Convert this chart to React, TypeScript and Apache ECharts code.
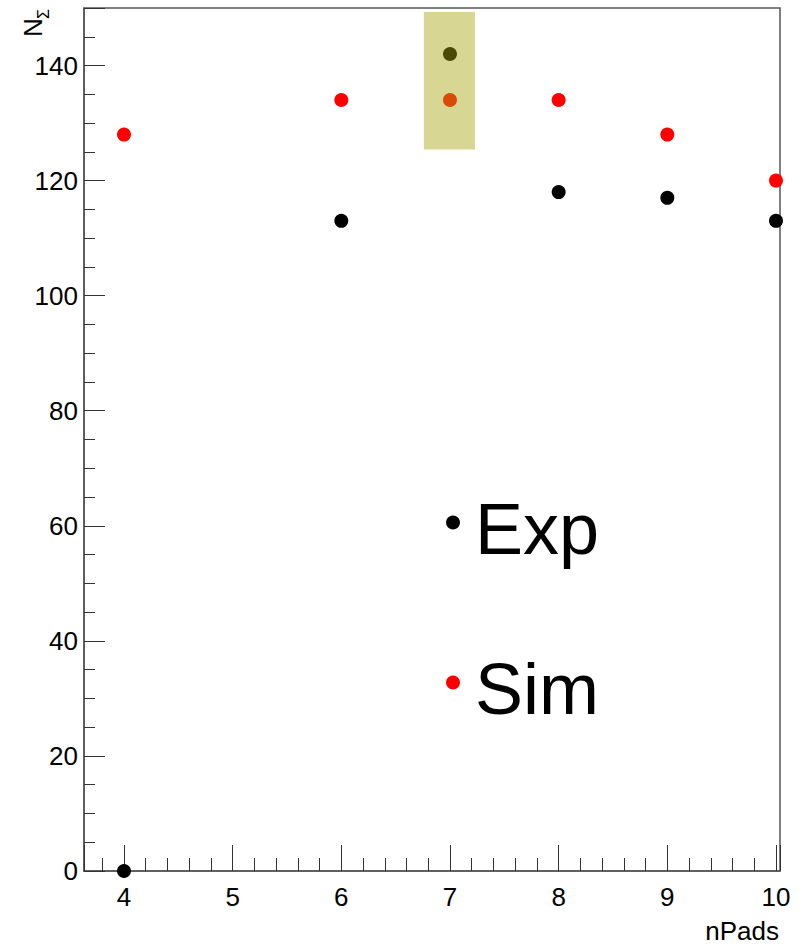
import React, { useEffect, useRef } from "react";
import * as echarts from "echarts";

const nPads = [4, 6, 7, 8, 9, 10];
const expValues = [0, 113, 142, 118, 117, 113];
const simValues = [128, 134, 134, 134, 128, 120];
const seriesNames = ["Exp", "Sim"];
const xRange = [3.632, 10.037];
const yRange = [0, 150];
const highlightX = [6.76, 7.23];
const highlightY = [125.4, 149.3];
const xTitle = "nPads";
const yTitleMain = "N";
const yTitleSub = "Σ";

const FONT = "Liberation Sans";

export default function App() {
  const ref = useRef<HTMLDivElement>(null);
  useEffect(() => {
    if (!ref.current) return;
    const chart = echarts.init(ref.current, null, { renderer: "svg" });
    const axisColor = "#555";
    const toPairs = (vals: number[]) => nPads.map((x, i) => [x, vals[i]]);
    chart.setOption({
      animation: false,
      backgroundColor: "#fff",
      grid: {
        left: 84,
        top: 8,
        width: 696,
        height: 863,
        show: true,
        borderColor: axisColor,
        borderWidth: 1.5,
        backgroundColor: "transparent",
      },
      xAxis: {
        type: "value",
        min: xRange[0],
        max: xRange[1],
        minInterval: 1,
        maxInterval: 1,
        splitLine: { show: false },
        axisLine: { show: true, lineStyle: { color: axisColor, width: 1.5 } },
        axisTick: { show: true, inside: true, length: 26, lineStyle: { color: "#333", width: 1 } },
        minorTick: { show: true, splitNumber: 5, length: 13, lineStyle: { color: "#333", width: 1 } },
        axisLabel: {
          margin: 13,
          fontSize: 26,
          fontFamily: FONT,
          color: "#000",
          formatter: (v: number) => (Number.isInteger(v) ? String(v) : ""),
        },
      },
      yAxis: {
        type: "value",
        min: yRange[0],
        max: yRange[1],
        interval: 20,
        splitLine: { show: false },
        axisLine: { show: true, lineStyle: { color: axisColor, width: 1.5 } },
        axisTick: { show: true, inside: true, length: 21, lineStyle: { color: "#333", width: 1 } },
        minorTick: { show: true, splitNumber: 4, length: 11, lineStyle: { color: "#333", width: 1 } },
        axisLabel: {
          margin: 6,
          fontSize: 26,
          fontFamily: FONT,
          color: "#000",
          formatter: (v: number) => (v % 20 === 0 ? String(v) : ""),
        },
      },
      legend: {
        data: seriesNames,
        orient: "vertical",
        left: 446,
        top: 480,
        padding: 0,
        icon: "circle",
        itemWidth: 34,
        itemHeight: 14,
        itemGap: 75,
        selectedMode: false,
        formatter: (name: string) => `{t|${name}}`,
        textStyle: {
          fontSize: 72,
          lineHeight: 80,
          fontFamily: FONT,
          color: "#000",
          rich: {
            t: {
              fontSize: 72,
              lineHeight: 80,
              fontFamily: FONT,
              color: "#000",
              padding: [13, 0, 0, 0],
            },
          },
        },
      },
      graphic: [
        {
          type: "group",
          x: 32.5,
          y: 37,
          rotation: Math.PI / 2,
          children: [
            {
              type: "text",
              x: 0,
              y: 0,
              style: {
                text: yTitleMain,
                fontSize: 26,
                fontFamily: FONT,
                fill: "#000",
                textAlign: "left",
                textVerticalAlign: "middle",
              },
            },
            {
              type: "text",
              x: 18,
              y: 10.5,
              style: {
                text: yTitleSub,
                fontSize: 16,
                fontFamily: FONT,
                fill: "#000",
                textAlign: "left",
                textVerticalAlign: "middle",
              },
            },
          ],
        },
        {
          type: "text",
          x: 779,
          y: 930.5,
          style: {
            text: xTitle,
            fontSize: 26,
            lineHeight: 24,
            fontFamily: FONT,
            fill: "#000",
            textAlign: "right",
            textVerticalAlign: "middle",
          },
        },
      ],
      series: [
        {
          name: seriesNames[0],
          type: "scatter",
          symbol: "circle",
          symbolSize: 14,
          itemStyle: { color: "#000", opacity: 1 },
          data: toPairs(expValues),
          z: 2,
        },
        {
          name: seriesNames[1],
          type: "scatter",
          symbol: "circle",
          symbolSize: 14,
          itemStyle: { color: "#ff0000", opacity: 1 },
          data: toPairs(simValues),
          z: 2,
        },
        {
          name: "highlight",
          type: "scatter",
          data: [],
          z: 10,
          silent: true,
          markArea: {
            z: 10,
            silent: true,
            itemStyle: { color: "rgba(167,167,15,0.45)", borderWidth: 0 },
            label: { show: false },
            data: [[{ coord: [highlightX[0], highlightY[0]] }, { coord: [highlightX[1], highlightY[1]] }]],
          },
        },
      ],
    });
    return () => chart.dispose();
  }, []);
  return (
    <div
      ref={ref}
      style={{ position: "fixed", left: 0, top: 0, width: 805, height: 944, background: "#fff" }}
    />
  );
}
